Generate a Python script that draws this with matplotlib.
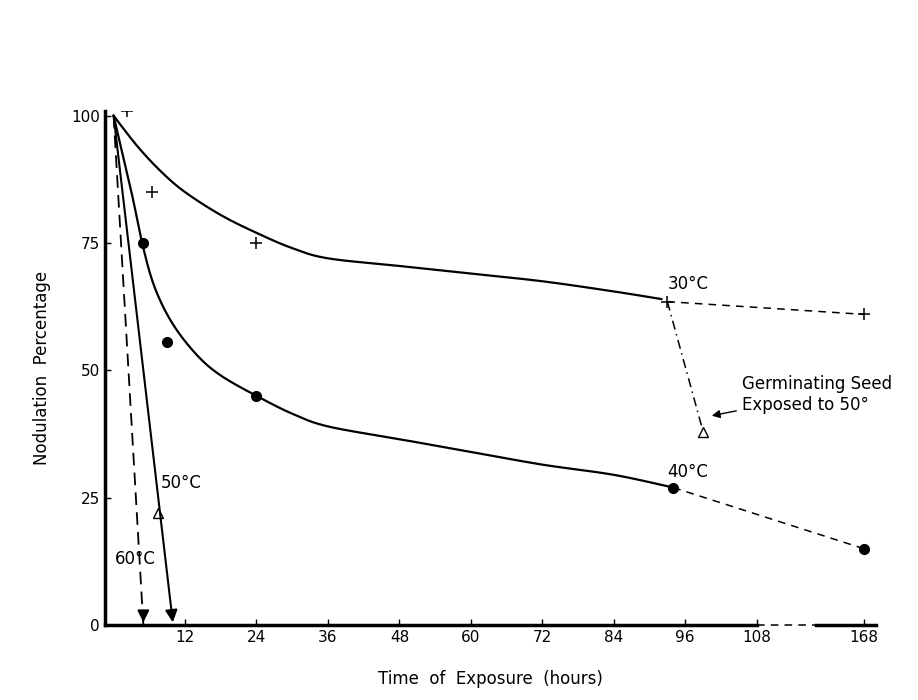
import matplotlib.pyplot as plt
import numpy as np

# x positions: hours 0-108 on linear scale, 168 drawn at position 126 (broken axis)
POS_168 = 126

# 30 C curve
t30_curve = [0, 4, 8, 12, 18, 24, 30, 36, 48, 60, 72, 84, 92]
p30_curve = [100, 94, 89, 85, 80.5, 77, 74, 72, 70.5, 69, 67.5, 65.5, 64]
t30_pts = [2.3, 6.5, 24, 93, POS_168]
p30_pts = [101, 85, 75, 63.5, 61]

# 40 C curve
t40_curve = [0, 3, 5, 7, 10, 14, 18, 24, 30, 36, 48, 60, 72, 84, 94]
p40_curve = [100, 85, 74, 66, 59, 53, 49, 45, 41.5, 39, 36.5, 34, 31.5, 29.5, 27]
t40_pts = [5, 9, 24, 94, POS_168]
p40_pts = [75, 55.5, 45, 27, 15]

# germinating seed exposed to 50 C
t_seed = [93, 99]
p_seed = [63.5, 38]

# 50 C and 60 C
t50 = [0, 10]
p50 = [100, 0]
t50_tri = [7.5]
p50_tri = [22]
t60 = [0, 5]
p60 = [100, 0]

xticks = [12, 24, 36, 48, 60, 72, 84, 96, 108, POS_168]
xlabels = ['12', '24', '36', '48', '60', '72', '84', '96', '108', '168']
yticks = [0, 25, 50, 75, 100]


def smooth(xs, ys, n=20):
    # Catmull-Rom through the read points
    P = np.column_stack([xs, ys]).astype(float)
    P = np.vstack([P[0], P, P[-1]])
    out = []
    t = np.linspace(0, 1, n, endpoint=False)[:, None]
    for i in range(1, len(P) - 2):
        p0, p1, p2, p3 = P[i - 1], P[i], P[i + 1], P[i + 2]
        out.append(0.5 * (2 * p1 + (-p0 + p2) * t + (2 * p0 - 5 * p1 + 4 * p2 - p3) * t ** 2
                          + (-p0 + 3 * p1 - 3 * p2 + p3) * t ** 3))
    out.append(P[-2][None, :])
    out = np.vstack(out)
    return out[:, 0], out[:, 1]


plt.rcParams['font.family'] = 'DejaVu Sans'
fig = plt.figure(figsize=(9.18, 7), dpi=100)
ax = fig.add_axes([0.114, 0.107, 0.84, 0.735])

k = 'black'
ax.plot(*smooth(t30_curve, p30_curve), color=k, lw=1.6)
ax.plot([93, POS_168], [63.5, 61], color=k, lw=1.1, ls=(0, (5, 4)))
ax.plot(t30_pts, p30_pts, '+', color=k, ms=8, mew=1.1)
ax.plot(t_seed, p_seed, color=k, lw=1.1, ls=(0, (6, 3, 1, 3)))
ax.plot(t_seed[-1:], p_seed[-1:], '^', mfc='white', mec=k, ms=7)

ax.plot(*smooth(t40_curve, p40_curve), color=k, lw=1.6)
ax.plot([94, POS_168], [27, 15], color=k, lw=1.1, ls=(0, (5, 4)))
ax.plot(t40_pts, p40_pts, 'o', color=k, ms=7)

ax.annotate('', xy=(t50[1], p50[1]), xytext=(t50[0], p50[0]),
            arrowprops=dict(arrowstyle='-|>', color=k, lw=1.5, mutation_scale=18))
ax.plot(t50_tri, p50_tri, '^', mfc='white', mec=k, ms=7)
ax.plot(t60, p60, color=k, lw=1.3, ls=(0, (7, 4)))
ax.annotate('', xy=(t60[1], p60[1]), xytext=(t60[1], 3),
            arrowprops=dict(arrowstyle='-|>', color=k, lw=1.3, mutation_scale=18))

fs = 12
ax.text(93, 66, '30°C', fontsize=fs)
ax.text(93, 29, '40°C', fontsize=fs)
ax.text(8, 27, '50°C', fontsize=fs)
ax.text(0.3, 12, '60°C', fontsize=fs)
ax.annotate('Germinating Seed\nExposed to 50°', xy=(100, 41), xytext=(105.5, 49),
            fontsize=fs, ha='left', va='top',
            arrowprops=dict(arrowstyle='-|>', color=k, lw=1, mutation_scale=12))

ax.set_xlim(-1.5, 128)
ax.set_ylim(0, 101)
ax.set_xticks(xticks)
ax.set_xticklabels(xlabels, fontsize=11)
ax.set_yticks(yticks)
ax.set_yticklabels([str(v) for v in yticks], fontsize=11)
ax.tick_params(direction='in', length=4, width=1)
for s in ['top', 'right', 'bottom']:
    ax.spines[s].set_visible(False)
ax.spines['left'].set_linewidth(2.5)
ax.plot([-1.5, 108], [0, 0], color=k, lw=2.5, clip_on=False)
ax.plot([108, 118], [0, 0], color=k, lw=1.1, ls=(0, (5, 4)), clip_on=False)
ax.plot([118, 128], [0, 0], color=k, lw=2.5, clip_on=False)

ax.set_xlabel('Time  of  Exposure  (hours)', fontsize=12, labelpad=18)
ax.set_ylabel('Nodulation  Percentage', fontsize=12, labelpad=14)
fig.savefig('out.png', dpi=100)
